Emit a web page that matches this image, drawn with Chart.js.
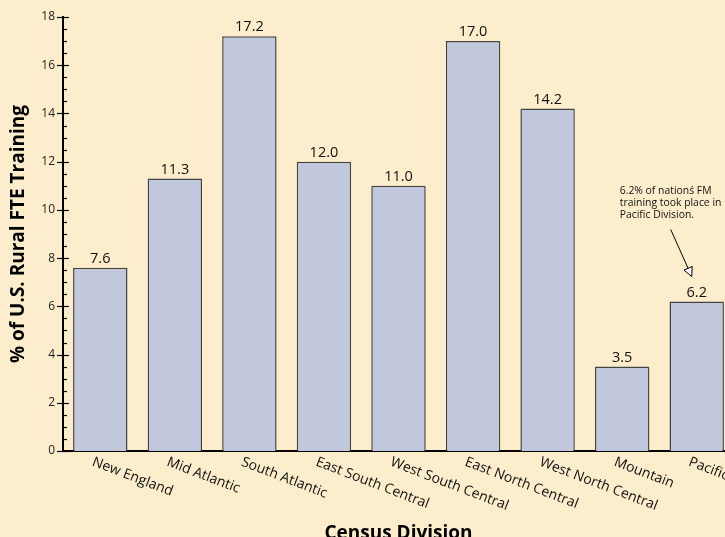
<!DOCTYPE html>
<html><head><meta charset="utf-8">
<script src="https://cdn.jsdelivr.net/npm/chart.js@4"></script>
<style>
html,body{margin:0;padding:0;background:#FCEECC;overflow:hidden;width:725px;height:537px;}
#wrap{position:absolute;left:0;top:0;width:736px;height:537px;}
</style></head><body>
<div id="wrap"><canvas id="c"></canvas></div>
<script>
const categories = ["New England","Mid Atlantic","South Atlantic","East South Central","West South Central","East North Central","West North Central","Mountain","Pacific"];
const values = [7.6, 11.3, 17.2, 12.0, 11.0, 17.0, 14.2, 3.5, 6.2];
const yTickValues = [0,2,4,6,8,10,12,14,16,18];
const annotationLines = ["6.2% of nationś FM","training took place in","Pacific Division."];
const annotationIndex = 8;

const FONT = "'Open Sans', sans-serif";

const customDraw = {
  id: 'customDraw',
  afterDraw(chart) {
    const ctx = chart.ctx;
    const xs = chart.scales.x, ys = chart.scales.y;
    const axisX = ys.right;
    const axisY = xs.top;
    ctx.save();
    // y ticks major & minor
    ctx.strokeStyle = '#000';
    ctx.lineWidth = 1.2;
    for (let v = ys.min; v <= ys.max + 1e-9; v += 0.5) {
      const py = Math.round(ys.getPixelForValue(v)) + 0.5;
      const major = Math.abs(v / 2 - Math.round(v / 2)) < 1e-9;
      ctx.beginPath();
      if (major) { ctx.moveTo(axisX - 6, py); ctx.lineTo(axisX + 6, py); }
      else { ctx.moveTo(axisX, py); ctx.lineTo(axisX + 4, py); }
      ctx.stroke();
    }
    // value labels
    ctx.fillStyle = '#111';
    ctx.font = "14.5px " + FONT;
    ctx.textAlign = 'center';
    ctx.textBaseline = 'alphabetic';
    values.forEach((v, i) => {
      ctx.fillText(v.toFixed(1), xs.getPixelForValue(i), ys.getPixelForValue(v) - 5);
    });
    // x labels rotated
    ctx.font = "14px " + FONT;
    ctx.textAlign = 'left';
    ctx.textBaseline = 'top';
    categories.forEach((c, i) => {
      const px = xs.getPixelForValue(i);
      ctx.save();
      ctx.translate(px - 5, axisY + 4);
      ctx.rotate(21 * Math.PI / 180);
      ctx.fillText(c, 0, 0);
      ctx.restore();
    });
    // annotation
    const cx = xs.getPixelForValue(annotationIndex);
    const vy = ys.getPixelForValue(values[annotationIndex]);
    ctx.font = "10.4px " + FONT;
    ctx.textBaseline = 'middle';
    annotationLines.forEach((t, k) => {
      ctx.fillText(t, cx - 77, vy - 110 + k * 11.7);
    });
    const x1 = cx - 26, y1 = vy - 72, x2 = cx - 5, y2 = vy - 25;
    const ang = Math.atan2(y2 - y1, x2 - x1);
    const hl = 9, hw = 4.5;
    const bx = x2 - hl * Math.cos(ang), by = y2 - hl * Math.sin(ang);
    ctx.strokeStyle = '#000';
    ctx.lineWidth = 1;
    ctx.beginPath(); ctx.moveTo(x1, y1); ctx.lineTo(bx, by); ctx.stroke();
    ctx.beginPath();
    ctx.moveTo(x2, y2);
    ctx.lineTo(bx + hw * Math.sin(ang), by - hw * Math.cos(ang));
    ctx.lineTo(bx - hw * Math.sin(ang), by + hw * Math.cos(ang));
    ctx.closePath();
    ctx.fillStyle = '#fff';
    ctx.fill(); ctx.stroke();
    ctx.restore();
  }
};

new Chart(document.getElementById('c'), {
  type: 'bar',
  data: {
    labels: categories,
    datasets: [{
      data: values,
      backgroundColor: '#C1C8DE',
      borderColor: '#444',
      borderWidth: 1.5,
      categoryPercentage: 1.0,
      barPercentage: 0.73
    }]
  },
  options: {
    responsive: true,
    maintainAspectRatio: false,
    animation: false,
    layout: { padding: { top: 17, right: 2, left: 0, bottom: 0 } },
    plugins: { legend: { display: false }, tooltip: { enabled: false } },
    scales: {
      x: {
        grid: { display: false, drawTicks: false },
        border: { display: true, color: '#000', width: 2 },
        ticks: { display: false },
        afterFit(s) { s.height = 86; },
        title: { display: true, text: 'Census Division', color: '#000', font: { family: FONT, size: 19, weight: 'bold' }, padding: { top: 0, bottom: -8 } }
      },
      y: {
        min: 0, max: 18,
        afterBuildTicks(s) { s.ticks = yTickValues.map(v => ({ value: v })); },
        grid: { display: false, drawTicks: false },
        border: { display: true, color: '#000', width: 2 },
        ticks: { color: '#222', padding: 8, font: { family: FONT, size: 12 } },
        afterFit(s) { s.width = 63; },
        title: { display: true, text: '% of U.S. Rural FTE Training', color: '#000', font: { family: FONT, size: 19, weight: 'bold' }, padding: { top: 7, bottom: 0 } }
      }
    }
  },
  plugins: [customDraw]
});
</script>
</body></html>
